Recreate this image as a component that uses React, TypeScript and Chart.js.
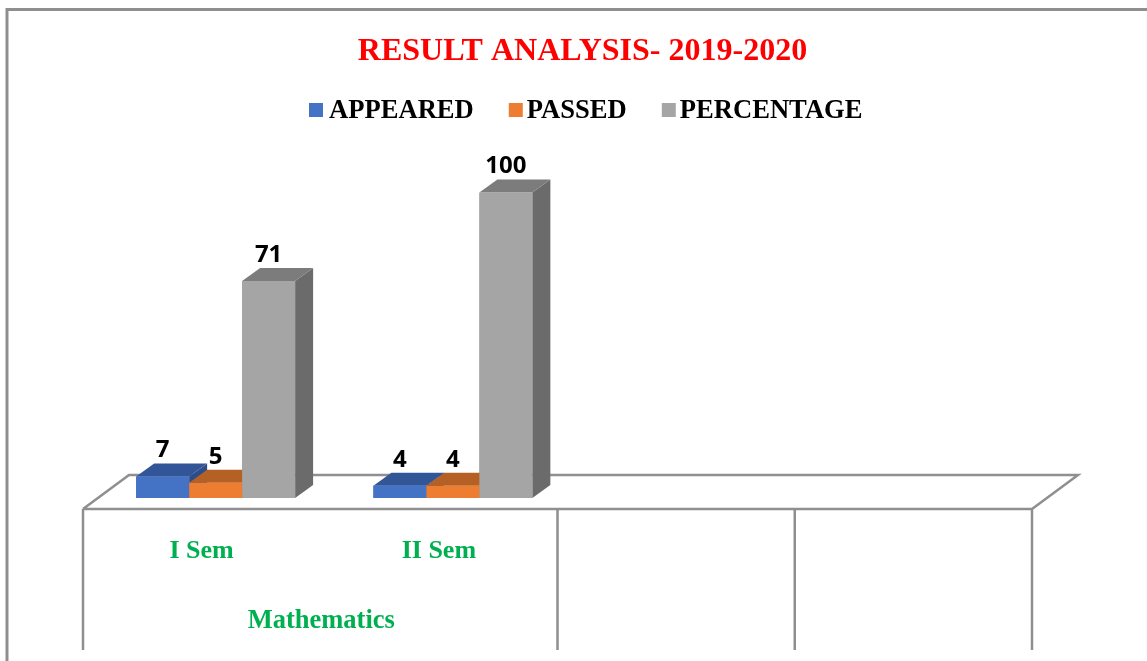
import React, { useEffect, useRef } from "react";
import { Chart, registerables } from "chart.js";

Chart.register(...registerables);

const chartTitle = "RESULT ANALYSIS- 2019-2020";
const categories = ["I Sem", "II Sem", "", ""];
const groupLabel = "Mathematics";
const appeared = [7, 4, null, null];
const passed = [5, 4, null, null];
const percentage = [71, 100, null, null];

const SERIF = '"Liberation Serif", serif';
const DEPTH_X = 18;
const DEPTH_Y = 13;
const FLOOR_X = 46;
const FLOOR_Y = 34;
const SKEW = 14;
const GRAY = "#8f8f8f";
const GREEN = "#00B050";

const tops = ["#325597", "#B56125", "#7c7c7c"];
const sides = ["#2c4d8a", "#a35720", "#6b6b6b"];

const frame3d = {
  id: "frame3d",
  beforeDatasetsDraw(chart: any) {
    const { ctx, chartArea, scales } = chart;
    const x = scales.x;
    const left = chartArea.left - SKEW;
    const right = chartArea.right - SKEW;
    const floorY = chartArea.bottom + 11;
    ctx.save();
    ctx.strokeStyle = GRAY;
    ctx.lineWidth = 3;
    ctx.beginPath();
    ctx.moveTo(7, chart.height);
    ctx.lineTo(7, 9.5);
    ctx.lineTo(chart.width, 9.5);
    ctx.stroke();
    ctx.lineWidth = 2.5;
    ctx.beginPath();
    ctx.moveTo(left, floorY);
    ctx.lineTo(left + FLOOR_X, floorY - FLOOR_Y);
    ctx.lineTo(right + FLOOR_X, floorY - FLOOR_Y);
    ctx.lineTo(right, floorY);
    ctx.lineTo(left, floorY);
    const step = x.getPixelForValue(1) - x.getPixelForValue(0);
    [0, 2, 3, 4].forEach((i) => {
      const px = left + i * step;
      ctx.moveTo(px, floorY);
      ctx.lineTo(px, 650);
    });
    ctx.stroke();
    ctx.restore();
  },
  afterDatasetsDraw(chart: any) {
    const { ctx, scales } = chart;
    chart.data.datasets.forEach((ds: any, d: number) => {
      const meta = chart.getDatasetMeta(d);
      meta.data.forEach((bar: any, i: number) => {
        if (ds.data[i] == null) return;
        const l = bar.x - bar.width / 2;
        const r = bar.x + bar.width / 2;
        const t = bar.y;
        const b = bar.base;
        ctx.fillStyle = sides[d];
        ctx.beginPath();
        ctx.moveTo(r, t);
        ctx.lineTo(r + DEPTH_X, t - DEPTH_Y);
        ctx.lineTo(r + DEPTH_X, b - DEPTH_Y);
        ctx.lineTo(r, b);
        ctx.closePath();
        ctx.fill();
        ctx.fillStyle = tops[d];
        ctx.beginPath();
        ctx.moveTo(l, t);
        ctx.lineTo(l + DEPTH_X, t - DEPTH_Y);
        ctx.lineTo(r + DEPTH_X, t - DEPTH_Y);
        ctx.lineTo(r, t);
        ctx.closePath();
        ctx.fill();
        bar.draw(ctx);
      });
    });
    chart.data.datasets.forEach((ds: any, d: number) => {
      chart.getDatasetMeta(d).data.forEach((bar: any, i: number) => {
        if (ds.data[i] == null) return;
        ctx.fillStyle = "#000";
        ctx.font = 'bold 24px "Open Sans", sans-serif';
        ctx.textAlign = "center";
        ctx.textBaseline = "middle";
        ctx.fillText(String(ds.data[i]), bar.x, bar.y - 26);
      });
    });
    // group label below the first two categories
    const x = scales.x;
    ctx.fillStyle = GREEN;
    ctx.font = `bold 26.5px ${SERIF}`;
    ctx.textAlign = "center";
    ctx.textBaseline = "middle";
    ctx.fillText(
      groupLabel,
      (x.getPixelForValue(0) + x.getPixelForValue(1)) / 2 - SKEW + 1,
      621
    );
    // legend
    ctx.font = `bold 26.6px ${SERIF}`;
    ctx.textAlign = "left";
    let cx = 309;
    chart.data.datasets.forEach((ds: any, d: number) => {
      ctx.fillStyle = ds.backgroundColor;
      ctx.fillRect(cx, 103, 14, 14);
      ctx.fillStyle = "#000";
      const gap = d === 0 ? 20 : 18;
      ctx.fillText(ds.label, cx + gap, 111);
      cx += gap + ctx.measureText(ds.label).width + 35;
    });
  },
};

export default function App() {
  const ref = useRef<HTMLCanvasElement | null>(null);
  useEffect(() => {
    const chart = new Chart(ref.current as HTMLCanvasElement, {
      type: "bar",
      data: {
        labels: categories,
        datasets: [
          { label: "APPEARED", data: appeared, backgroundColor: "#4472C4" },
          { label: "PASSED", data: passed, backgroundColor: "#ED7D31" },
          { label: "PERCENTAGE", data: percentage, backgroundColor: "#A5A5A5" },
        ],
      },
      options: {
        animation: false,
        responsive: false,
        layout: { padding: { left: 18, right: 0, top: 0, bottom: 0 } },
        datasets: { bar: { categoryPercentage: 0.67, barPercentage: 1 } },
        plugins: {
          legend: { display: false },
          tooltip: { enabled: false },
          title: {
            display: true,
            text: chartTitle,
            color: "#FF0000",
            font: { family: SERIF, size: 32, weight: "bold", lineHeight: 1.2 },
            padding: { top: 33, bottom: 121 },
          },
        },
        scales: {
          x: {
            grid: { display: false, drawTicks: false },
            border: { display: false },
            ticks: {
              color: GREEN,
              font: { family: SERIF, size: 26, weight: "bold" },
              padding: 38,
              labelOffset: -SKEW,
              maxRotation: 0,
              autoSkip: false,
            },
            afterFit: (s: any) => { s.height = 163; },
          },
          y: {
            min: 0,
            max: 100,
            grid: { display: false, drawTicks: false },
            border: { display: false },
            ticks: { display: false },
            afterFit: (s: any) => { s.width = 79; },
          },
          y2: {
            position: "right",
            grid: { display: false, drawTicks: false },
            border: { display: false },
            ticks: { display: false },
            afterFit: (s: any) => { s.width = 101; },
          },
        },
      },
      plugins: [frame3d],
    } as any);
    return () => chart.destroy();
  }, []);
  return (
    <div style={{ position: "fixed", left: 0, top: 0, width: 1147, height: 661, background: "#fff" }}>
      <canvas ref={ref} width={1147} height={661} style={{ display: "block" }} />
    </div>
  );
}
